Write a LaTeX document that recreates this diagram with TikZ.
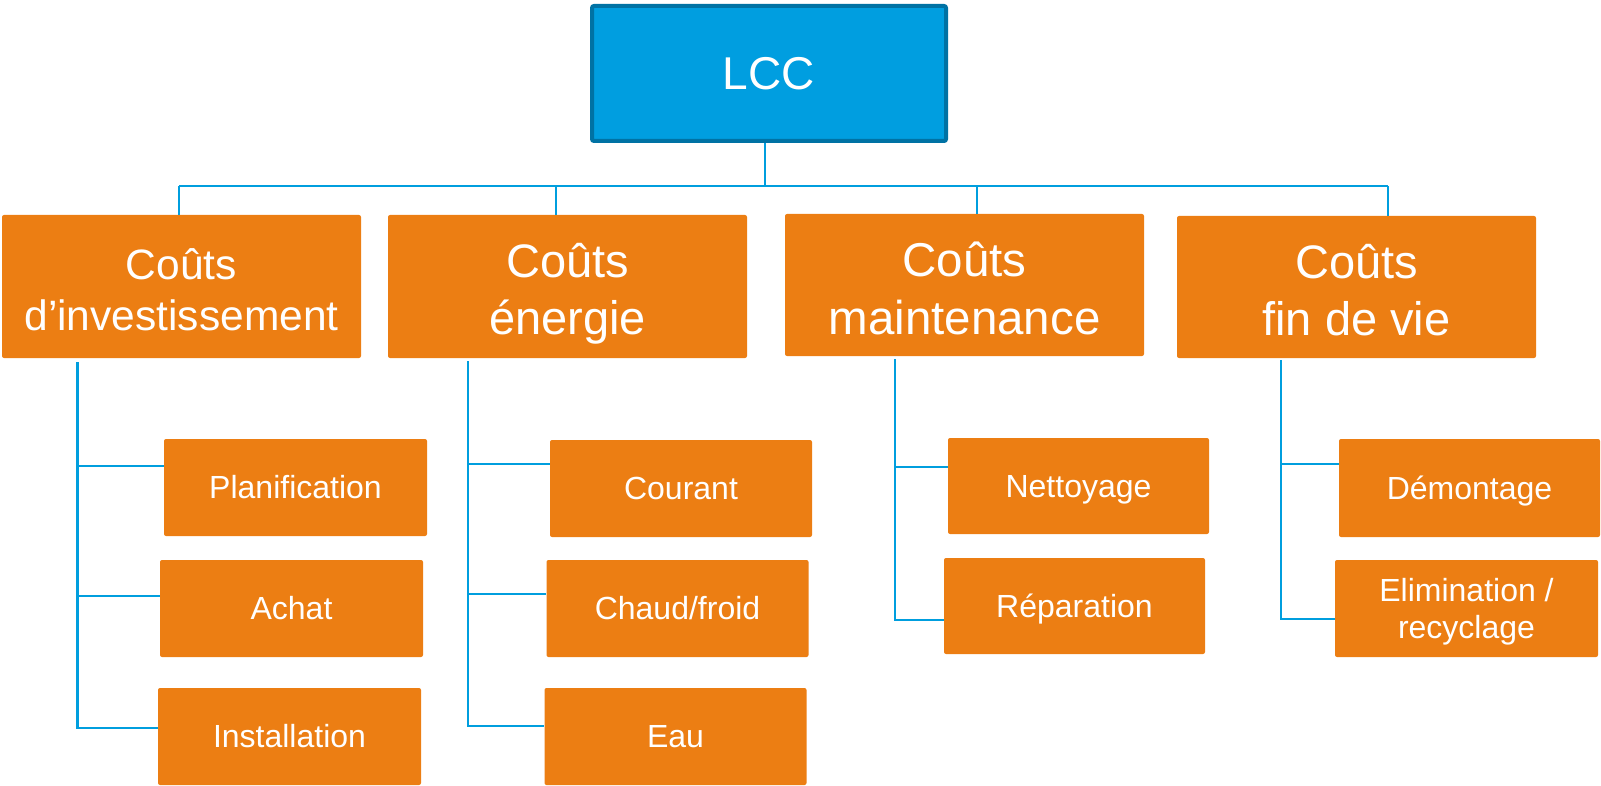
\documentclass[tikz,border=0pt]{standalone}
\usepackage{fontspec}
\setmainfont{Liberation Sans}
\definecolor{orangeC}{RGB}{236,126,19}
\definecolor{lineblue}{RGB}{0,158,222}
\definecolor{lccfill}{RGB}{0,158,224}
\definecolor{lccborder}{RGB}{0,114,164}
\newcommand\mytop[1]{\smash{#1}\rule{0pt}{.716em}}
\newcommand\mytopd[1]{\smash{#1}\rule{0pt}{\dimexpr.716em+6pt\relax}}
\newcommand\mybot[1]{\raisebox{0pt}[\height][0pt]{#1}}
\begin{document}
\begin{tikzpicture}[x=1pt,y=-1pt,
  lccbox/.style={fill=lccfill, draw=lccborder, line width=4pt, rounded corners=2pt, text=white,
    inner sep=0pt, minimum width=354pt, minimum height=135pt, font=\fontsize{46}{55}\selectfont, align=center},
  lvl1/.style={fill=orangeC, rounded corners=2pt, text=white, align=center, inner sep=0pt,
    minimum width=359pt, minimum height=143pt},
  leaf/.style={fill=orangeC, rounded corners=2pt, text=white, align=center, inner sep=0pt,
    minimum width=263pt, minimum height=97pt, font=\fontsize{32}{36}\selectfont},
  link/.style={draw=lineblue, line width=2.7pt}]
\useasboundingbox (0,0) rectangle (1601,786);

% root
\node[lccbox] (lcc) at (769,73.5) {\mytop{LCC}};

% level 1
\node[lvl1, font=\fontsize{42.5}{51}\selectfont] (b1) at (181.5,286.5) {\mytopd{Coûts}\\\mybot{d’investissement}};
\node[lvl1, font=\fontsize{47}{57}\selectfont] (b2) at (567.5,286.5) {\mytopd{Coûts}\\\mybot{énergie}};
\node[lvl1, font=\fontsize{47.5}{58}\selectfont, minimum height=142pt] (b3) at (964.5,285) {\mytopd{Coûts}\\\mybot{maintenance}};
\node[lvl1, font=\fontsize{47}{57}\selectfont, minimum height=142pt] (b4) at (1356.5,287) {\mytopd{Coûts}\\\mybot{fin de vie}};

% leaves
\node[leaf] (p) at (295.5,487.5) {\mytop{Planification}};
\node[leaf] (a) at (291.5,608.5) {\mytop{Achat}};
\node[leaf] (i) at (289.5,736.5) {\mytop{Installation}};
\node[leaf, minimum width=262pt] (c) at (681,488.5) {\mytop{Courant}};
\node[leaf, minimum width=262pt] (ch) at (677.5,608.5) {\mytop{Chaud/froid}};
\node[leaf, minimum width=262pt] (e) at (675.5,736.5) {\mytop{Eau}};
\node[leaf, minimum width=261pt, minimum height=96pt] (n) at (1078.5,486) {\mytop{Nettoyage}};
\node[leaf, minimum width=261pt, minimum height=96pt] (r) at (1074.5,606) {\mytop{Réparation}};
\node[leaf, minimum width=261pt, minimum height=98pt] (d) at (1469.5,488) {\mytop{Démontage}};
\node[leaf, font=\fontsize{32}{37}\selectfont] (el) at (1466.5,608.5) {\mytop{Elimination /}\\\mybot{recyclage}};

% top bus
\coordinate (busL) at (179,186);
\coordinate (busR) at (1388,186);
\draw[link] (busL) -- (busR);
\draw[link] ([xshift=-4pt]lcc.south) -- ([xshift=-4pt]lcc.south |- busL);
\draw[link] ([xshift=-2.5pt]b1.north) -- ([xshift=-2.5pt]b1.north |- busL);
\draw[link] ([xshift=-11.5pt]b2.north) -- ([xshift=-11.5pt]b2.north |- busL);
\draw[link] ([xshift=12.5pt]b3.north) -- ([xshift=12.5pt]b3.north |- busL);
\draw[link] ([xshift=31.5pt]b4.north) -- ([xshift=31.5pt]b4.north |- busL);

% trunks
\coordinate (t1) at (77.5,362);
\coordinate (t2) at (468,361);
\coordinate (t3) at (895,359);
\coordinate (t4) at (1281,360);
\draw[link] (t1) |- ([yshift=21.5pt]p.west);
\draw[link] (t1) |- ([yshift=12.5pt]a.west);
\draw[link] (t1) |- ([yshift=8.5pt]i.west);
\draw[link] (t2) |- ([yshift=24.5pt]c.west);
\draw[link] (t2) |- ([yshift=14.5pt]ch.west);
\draw[link] (t2) |- ([yshift=10.5pt]e.west);
\draw[link] (t3) |- ([yshift=19pt]n.west);
\draw[link] (t3) |- ([yshift=-14pt]r.west);
\draw[link] (t4) |- ([yshift=24pt]d.west);
\draw[link] (t4) |- ([yshift=-10.5pt]el.west);
\end{tikzpicture}
\end{document}
